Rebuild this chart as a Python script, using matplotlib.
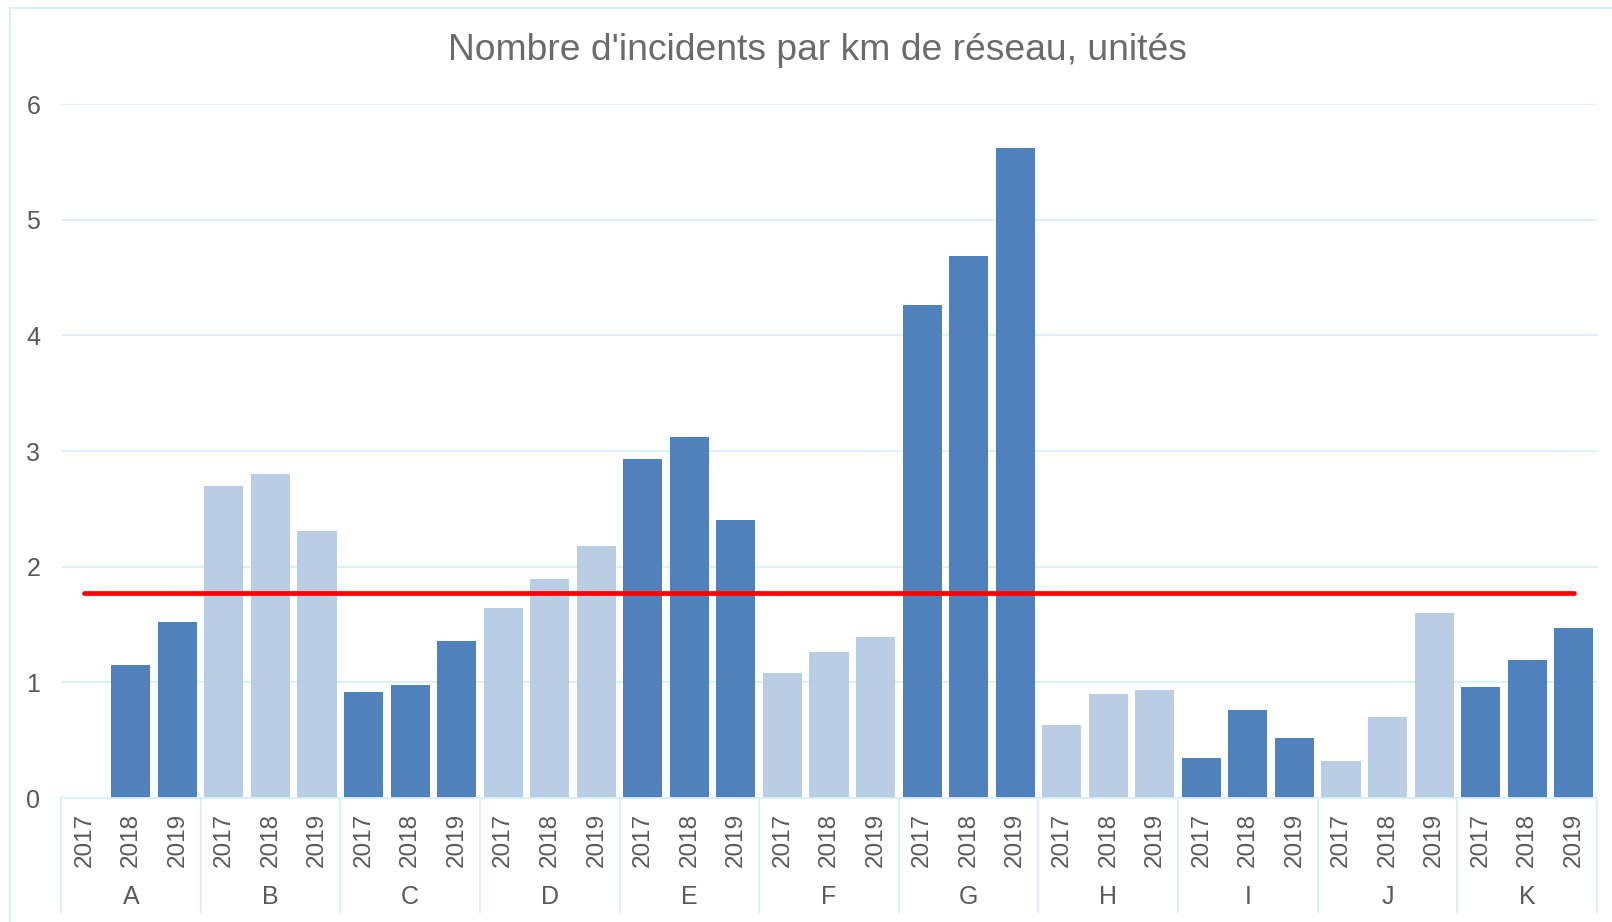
import numpy as np
import matplotlib
matplotlib.use('Agg')
import matplotlib.pyplot as plt
from matplotlib.lines import Line2D
from matplotlib.transforms import blended_transform_factory

plt.rcParams['font.family'] = ['Liberation Sans', 'DejaVu Sans']

groups = ['A', 'B', 'C', 'D', 'E', 'F', 'G', 'H', 'I', 'J', 'K']
years = ['2017', '2018', '2019']
incidents = [0.0, 1.15, 1.52,
             2.70, 2.80, 2.31,
             0.92, 0.98, 1.36,
             1.64, 1.89, 2.18,
             2.93, 3.12, 2.40,
             1.08, 1.26, 1.39,
             4.26, 4.69, 5.62,
             0.63, 0.90, 0.93,
             0.35, 0.76, 0.52,
             0.32, 0.70, 1.60,
             0.96, 1.19, 1.47]
moyenne = 1.775

dark = '#4F81BD'
light = '#B9CDE5'
grid_c = '#D5F0FA'
txt_c = '#595959'

W, H = 1612, 922
fig = plt.figure(figsize=(W / 100, H / 100), dpi=100)
ax = fig.add_axes([61 / W, 1 - 798 / H, (1597 - 61) / W, (798 - 104) / H])

x = np.arange(len(incidents))
cols = [dark if (i // 3) % 2 == 0 else light for i in x]
ax.bar(x, incidents, width=0.84, color=cols, zorder=2)
ax.plot(x, [moyenne] * len(x), color='#FF0000', lw=3.4, solid_capstyle='round', zorder=3)

ax.set_xlim(-0.5, len(x) - 0.5)
ax.set_ylim(0, 6)
ax.set_yticks(range(7))
ax.yaxis.grid(True, color=grid_c, lw=1.3, zorder=0)
ax.set_axisbelow(True)
for s in ['top', 'right', 'left']:
    ax.spines[s].set_visible(False)
ax.spines['bottom'].set_color(grid_c)
ax.spines['bottom'].set_linewidth(1.3)
ax.tick_params(axis='y', length=0, pad=15, labelsize=18, labelcolor=txt_c)
ax.set_xticks([])

# two-level category axis
tr = blended_transform_factory(ax.transData, ax.transAxes)
for i in x:
    ax.text(i, -0.0605, years[i % 3], rotation=90, ha='center', va='center',
            fontsize=17.5, color=txt_c, transform=tr)
for g, name in enumerate(groups):
    ax.text(g * 3 + 1, -0.143, name, ha='center', va='center',
            fontsize=18, color=txt_c, transform=tr)
for b in np.arange(-0.5, len(x), 3):
    ax.plot([b, b], [0, -0.164], color=grid_c, lw=1.3, transform=tr, clip_on=False)

fig.text(817 / W, 1 - 50 / H, "Nombre d'incidents par km de réseau, unités",
         ha='center', va='center', fontsize=26.8, color='#6B6B6B')

# chart area border
fig.add_artist(Line2D([10 / W, 10 / W], [0, 1 - 8 / H], color=grid_c, lw=1.5))
fig.add_artist(Line2D([10 / W, 1], [1 - 8 / H, 1 - 8 / H], color=grid_c, lw=1.5))

fig.savefig('out.png', dpi=100)
